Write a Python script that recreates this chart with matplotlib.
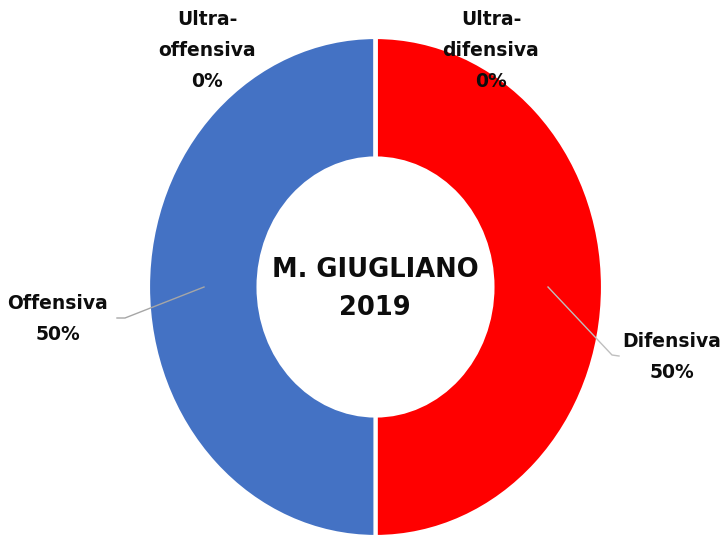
import matplotlib
matplotlib.use("Agg")
import matplotlib.pyplot as plt

# Data (clockwise from top)
categories = ["Ultra-difensiva", "Difensiva", "Offensiva", "Ultra-offensiva"]
values = [0, 50, 50, 0]
colors = ["#FF0000", "#FF0000", "#4472C4", "#4472C4"]
label_texts = ["Ultra-\ndifensiva\n0%", "Difensiva\n50%", "Offensiva\n50%", "Ultra-\noffensiva\n0%"]
center_title = "M. GIUGLIANO\n2019"

W, H = 728, 539
fig = plt.figure(figsize=(W / 100, H / 100), dpi=100)
ax = fig.add_axes([0, 0, 1, 1])

CX, CY, RX, RY = 375.5, 287.0, 227.5, 250.0


def d(px, py):
    return (px - CX) / RX, (CY - py) / RY


ax.pie(values, colors=colors, startangle=90, counterclock=False, radius=1.0,
       wedgeprops=dict(width=0.486, edgecolor="white", linewidth=3))
ax.set_aspect("auto")
ax.set_xlim(d(0, 0)[0], d(W, 0)[0])
ax.set_ylim(d(0, H)[1], d(0, 0)[1])
ax.axis("off")

font = dict(family="DejaVu Sans", fontweight="bold", color="#0d0d0d")

# Leader lines
lx, ly = zip(d(204, 287), d(125, 318), d(117, 318))
ax.plot(lx, ly, color="#A6A6A6", lw=1)
lx, ly = zip(d(548, 287), d(612, 355), d(619, 356))
ax.plot(lx, ly, color="#BFBFBF", lw=1)

label_pos = [(491, 51), (672, 357), (58, 319), (207, 51)]
for txt, (px, py) in zip(label_texts, label_pos):
    x, y = d(px, py)
    ax.text(x, y, txt, ha="center", va="center", fontsize=13.5,
            linespacing=1.8, multialignment="center", **font)

x, y = d(375, 289)
ax.text(x, y, center_title, ha="center", va="center", fontsize=18.5,
        linespacing=1.6, multialignment="center", **font)

fig.savefig("out.png", dpi=100)
